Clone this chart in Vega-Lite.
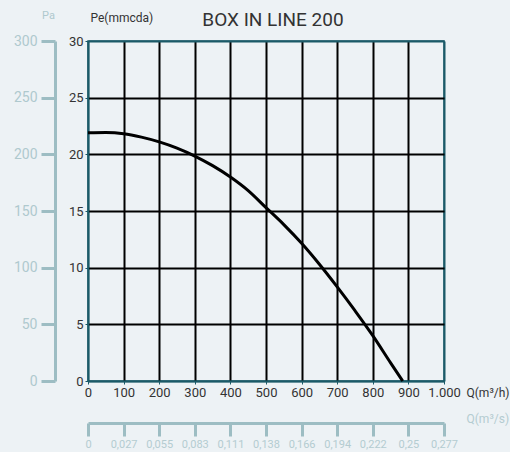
{
  "$schema": "https://vega.github.io/schema/vega-lite/v6.json",
  "width": 356,
  "height": 340,
  "autosize": {"type": "none"},
  "padding": {"left": 88, "top": 41, "right": 66, "bottom": 71},
  "background": "#edf2f5",
  "config": {"font": "Roboto", "view": {"stroke": "#1b5a68", "strokeWidth": 1.5}},
  "title": {"text": "BOX IN LINE 200", "fontSize": 19, "fontWeight": "normal", "color": "#333333", "anchor": "middle", "dx": 7, "dy": 25},
  "data": {"values": [
    {"Q": 0, "Pe": 21.9},
    {"Q": 50, "Pe": 21.92},
    {"Q": 100, "Pe": 21.82},
    {"Q": 150, "Pe": 21.52},
    {"Q": 200, "Pe": 21.1},
    {"Q": 250, "Pe": 20.55},
    {"Q": 300, "Pe": 19.85},
    {"Q": 350, "Pe": 19.0},
    {"Q": 400, "Pe": 18.0},
    {"Q": 450, "Pe": 16.8},
    {"Q": 500, "Pe": 15.3},
    {"Q": 550, "Pe": 13.8},
    {"Q": 600, "Pe": 12.15},
    {"Q": 650, "Pe": 10.3},
    {"Q": 700, "Pe": 8.3},
    {"Q": 750, "Pe": 6.2},
    {"Q": 800, "Pe": 4.0},
    {"Q": 850, "Pe": 1.6},
    {"Q": 884, "Pe": 0}
  ]},
  "layer": [
    {
      "mark": {"type": "line", "color": "#000000", "strokeWidth": 3, "interpolate": "monotone"},
      "encoding": {
        "x": {"field": "Q", "type": "quantitative", "scale": {"domain": [0, 1000], "nice": false},
          "axis": {"values": [0, 100, 200, 300, 400, 500, 600, 700, 800, 900, 1000],
            "grid": true, "gridColor": {"condition": {"test": "datum.value == 0 || datum.value == 1000", "value": "#1b5a68"}, "value": "#000000"}, "gridWidth": 2,
            "domainColor": "#1b5a68", "domainWidth": 1.5, "tickColor": "#1b5a68", "tickSize": 3,
            "labelColor": "#333333", "labelFontSize": 13, "labelPadding": 2, "labelFlush": false, "labelOverlap": false,
            "labelExpr": "datum.value == 1000 ? '1.000' : datum.label",
            "title": "Q(m³/h)", "titleX": 378, "titleY": 11, "titleAlign": "left", "titleBaseline": "middle",
            "titleFontSize": 12, "titleFontWeight": "normal", "titleColor": "#333333"}},
        "y": {"field": "Pe", "type": "quantitative", "scale": {"domain": [0, 30], "nice": false},
          "axis": {"values": [0, 5, 10, 15, 20, 25, 30],
            "grid": true, "gridColor": {"condition": {"test": "datum.value == 0 || datum.value == 30", "value": "#1b5a68"}, "value": "#000000"}, "gridWidth": 2,
            "domainColor": "#1b5a68", "domainWidth": 1.5, "tickColor": "#1b5a68", "tickSize": 3,
            "labelColor": "#333333", "labelFontSize": 13, "labelPadding": 2, "labelFlush": false, "labelOverlap": false,
            "title": "Pe(mmcda)", "titleAngle": 0, "titleX": 2, "titleY": -24, "titleAlign": "left", "titleBaseline": "middle",
            "titleFontSize": 12, "titleFontWeight": "normal", "titleColor": "#333333"}}
      }
    },
    {
      "mark": {"type": "line", "opacity": 0},
      "encoding": {
        "x": {"field": "Q", "type": "quantitative", "axis": null},
        "y": {"field": "Pe", "type": "quantitative",
          "axis": {"orient": "left", "offset": 33, "values": [0, 5, 10, 15, 20, 25, 30], "grid": false,
            "labelExpr": "format(datum.value * 10, 'd')",
            "domainColor": "#9dbdc3", "domainWidth": 3, "tickColor": "#9dbdc3", "tickWidth": 3, "tickSize": 14,
            "labelColor": "#afc9ce", "labelFontSize": 14, "labelPadding": 4, "labelFlush": false, "labelOverlap": false,
            "title": "Pa", "titleAngle": 0, "titleX": -7, "titleY": -26, "titleAlign": "center", "titleBaseline": "middle",
            "titleFontSize": 11, "titleFontWeight": "normal", "titleColor": "#afc9ce"}}
      }
    },
    {
      "mark": {"type": "line", "opacity": 0},
      "encoding": {
        "x": {"field": "Q", "type": "quantitative",
          "axis": {"orient": "bottom", "offset": 42, "values": [0, 100, 200, 300, 400, 500, 600, 700, 800, 900, 1000], "grid": false,
            "labelExpr": "replace(format(floor(datum.value / 3.6 + 0.000001) / 1000, '~g'), '.', ',')",
            "domainColor": "#9dbdc3", "domainWidth": 3, "tickColor": "#9dbdc3", "tickWidth": 3, "tickSize": 13,
            "labelColor": "#b4ccd1", "labelFontSize": 11, "labelPadding": 2, "labelFlush": false, "labelOverlap": false,
            "title": "Q(m³/s)", "titleX": 378, "titleY": -5, "titleAlign": "left", "titleBaseline": "middle",
            "titleFontSize": 12, "titleFontWeight": "normal", "titleColor": "#b4ccd1"}},
        "y": {"field": "Pe", "type": "quantitative", "axis": null}
      }
    }
  ],
  "resolve": {"axis": {"x": "independent", "y": "independent"}}
}
